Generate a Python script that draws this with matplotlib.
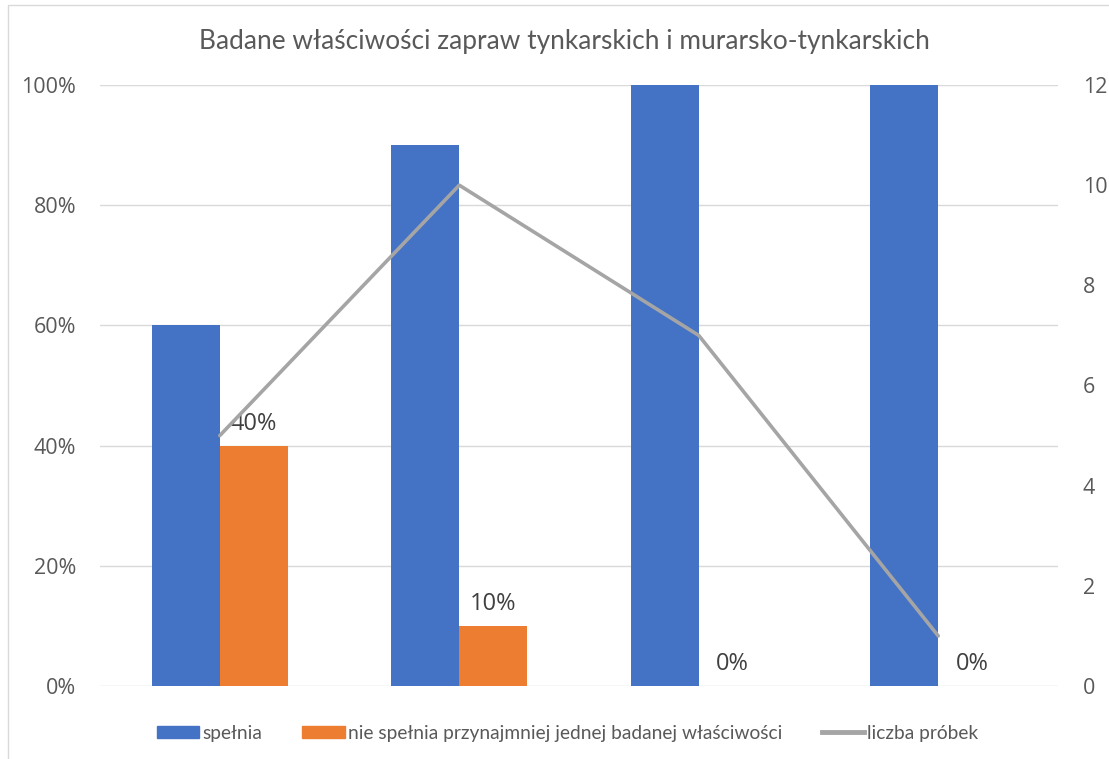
import matplotlib
matplotlib.use("Agg")
import matplotlib.pyplot as plt
from matplotlib.patches import Rectangle
from matplotlib.lines import Line2D
from matplotlib.ticker import FuncFormatter
import numpy as np

categories = ["1", "2", "3", "4"]
spelnia = [60, 90, 100, 100]
nie_spelnia = [40, 10, 0, 0]
liczba_probek = [5, 10, 7, 1]

BLUE = "#4472C4"
ORANGE = "#ED7D31"
GRAY = "#A5A5A5"
TXT = "#595959"

fig = plt.figure(figsize=(11.09, 7.59), dpi=100)
ax = fig.add_axes([0.0902, 0.0962, 0.8638, 0.7918])
ax2 = ax.twinx()

x = np.arange(len(categories))
w = 0.284
ax.bar(x - w / 2, spelnia, width=w, color=BLUE, zorder=2)
ax.bar(x + w / 2, nie_spelnia, width=w, color=ORANGE, zorder=2)

for xi, v in zip(x, nie_spelnia):
    ax.annotate(f"{v}%", (xi + w / 2, v), xytext=(0, 7), textcoords="offset points",
                ha="center", va="bottom", fontsize=17, color="#404040",
                family="Open Sans")

ax2.plot(x, liczba_probek, color=GRAY, lw=2.6, zorder=3, solid_capstyle="round")

ax.set_xlim(-0.5, 3.5)
ax.set_ylim(0, 100)
ax2.set_ylim(0, 12)
ax.set_yticks(range(0, 101, 20))
ax2.set_yticks(range(0, 13, 2))
ax.yaxis.set_major_formatter(FuncFormatter(lambda v, p: f"{int(v)}%"))
ax.set_xticks([])
ax.grid(axis="y", color="#D9D9D9", lw=1, zorder=0)
ax.set_axisbelow(True)

for a in (ax, ax2):
    for s in a.spines.values():
        s.set_visible(False)
    a.tick_params(axis="y", length=0, colors=TXT, labelsize=15.5)
    for lab in a.get_yticklabels():
        lab.set_family("Open Sans")
ax.tick_params(axis="y", pad=17)
ax2.tick_params(axis="y", pad=18)

fig.text(0.509, 0.945, "Badane właściwości zapraw tynkarskich i murarsko-tynkarskich",
         ha="center", va="center", fontsize=18.9, color=TXT, family="Lato")

handles = [
    Rectangle((0, 0), 1, 1, color=BLUE),
    Rectangle((0, 0), 1, 1, color=ORANGE),
    Line2D([0], [0], color=GRAY, lw=3.5),
]
labels = ["spełnia", "nie spełnia przynajmniej jednej badanej właściwości", "liczba próbek"]
fig.legend(handles, labels, loc="center", bbox_to_anchor=(0.512, 0.034), ncol=3,
           frameon=False, prop={"family": "Lato", "size": 13.8}, labelcolor=TXT,
           handlelength=2.2, handleheight=0.55, handletextpad=0.15, columnspacing=2.1)

fig.patches.append(Rectangle((8 / 1109, -0.1), 1.2, 1 - 5 / 759 + 0.1,
                             transform=fig.transFigure, fill=False,
                             edgecolor="#D9D9D9", lw=1))

fig.savefig("out.png", dpi=100, facecolor="white")
